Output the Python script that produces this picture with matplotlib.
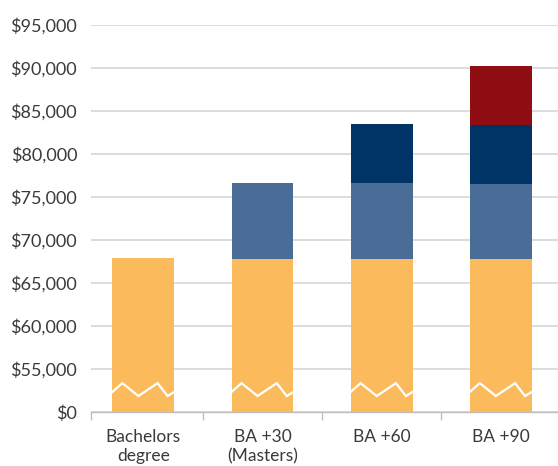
import matplotlib.pyplot as plt
import numpy as np

# salary schedule
categories = ["Bachelors\ndegree", "BA +30\n(Masters)", "BA +60", "BA +90"]
top_ba = [67900, 67750, 67750, 67750]
top_30 = [np.nan, 76600, 76600, 76500]
top_60 = [np.nan, np.nan, 83450, 83350]
top_90 = [np.nan, np.nan, np.nan, 90200]
tick_values = [0, 55000, 60000, 65000, 70000, 75000, 80000, 85000, 90000, 95000]

colors = ["#FBBA5C", "#4A6D98", "#003466", "#8E0E14"]


def to_pos(v):
    # broken axis: $0 sits one step below $55,000
    v = np.asarray(v, dtype=float)
    return np.where(v > 0, (v - 50000) / 5000.0, 0.0)


plt.rcParams['font.family'] = ['Lato', 'DejaVu Sans']

fig = plt.figure(figsize=(5.58, 4.66), dpi=100)
ax = fig.add_axes([0.163, 0.116, 0.837, 0.8305])

x = np.arange(len(categories))
width = 0.52
bottom = np.zeros(len(categories))
for tops, c in zip([top_ba, top_30, top_60, top_90], colors):
    t = to_pos(tops)
    mask = ~np.isnan(np.asarray(tops, dtype=float))
    h = np.where(mask, t - bottom, 0)
    ax.bar(x[mask], h[mask], width, bottom=bottom[mask], color=c, zorder=2)
    bottom = np.where(mask, t, bottom)

# zigzag break marks
zx = np.array([0.0, 0.16, 0.42, 0.73, 0.89, 1.0])
zy = np.array([0.465, 0.67, 0.37, 0.67, 0.37, 0.465])
for xi in x:
    ax.plot(xi - width / 2 + zx * width, zy, color="white", lw=1.6, zorder=3,
            solid_joinstyle='miter')

ax.set_ylim(0, 9)
ax.set_xlim(-0.44, 3.48)
ax.set_yticks(range(len(tick_values)))
ax.set_yticklabels([f"${v:,}" for v in tick_values])
ax.yaxis.grid(True, color="#d9d9d9", lw=1.3, zorder=0)
ax.set_axisbelow(True)

ax.set_xticks(x)
ax.set_xticklabels(categories, linespacing=1.25)
ax.set_xticks([-0.44, 0.5, 1.5, 2.5], minor=True)
ax.tick_params(axis='x', which='major', length=0, pad=12, labelsize=12.5, labelcolor="#3a3a3a")
ax.tick_params(axis='x', which='minor', length=6, color="#bfbfbf", width=1)
ax.tick_params(axis='y', length=0, pad=10, labelsize=13, labelcolor="#3a3a3a")

for s in ["top", "right", "left"]:
    ax.spines[s].set_visible(False)
ax.spines["bottom"].set_color("#bfbfbf")
ax.spines["bottom"].set_linewidth(1)

fig.savefig("out.png", dpi=100)
